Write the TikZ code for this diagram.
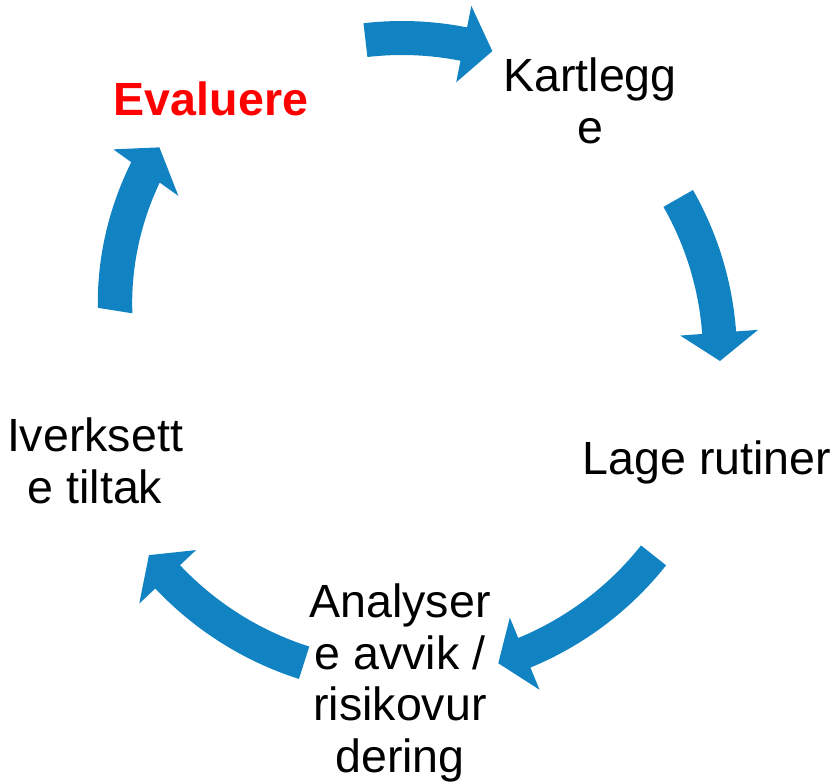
\documentclass[tikz,border=0pt]{standalone}
\usepackage{fontspec}
\setmainfont{Liberation Sans}
\definecolor{cycleblue}{RGB}{18,131,194}
\begin{document}
\begin{tikzpicture}[x=0.02cm,y=0.02cm,font=\fontsize{26.5}{29.5}\selectfont]
	\useasboundingbox (-402,-426) rectangle (436,356);
	\node[align=center] at (188,255) (kartlegge) {Kartlegg\\e};
	\node at (305,-106) (lage) {Lage rutiner};
	\node[align=center] at (-2,-327) (analysere) {Analyser\\e avvik /\\risikovur\\dering};
	\node[align=center] at (-307,-105) (iverksette) {Iverksett\\e tiltak};
	\node[red,font=\fontsize{26.5}{29.5}\selectfont\bfseries] at (-191,257) (evaluere) {Evaluere};
	\fill[cycleblue] (96.6:335) arc[start angle=96.6,end angle=78.8,radius=335] -- (78.8:357) -- (73.5:318) -- (78.8:279) -- (78.8:301) arc[start angle=78.8,end angle=96.6,radius=301] -- cycle;
	\fill[cycleblue] (29.7:335) arc[start angle=29.7,end angle=4.2,radius=335] -- (4.2:357) -- (-0.9:318) -- (4.2:279) -- (4.2:301) arc[start angle=4.2,end angle=29.7,radius=301] -- cycle;
	\fill[cycleblue] (-38.4:337) arc[start angle=-38.4,end angle=-67.6,radius=337] -- (-67.6:361) -- (-72.6:322) -- (-67.6:283) -- (-67.6:305) arc[start angle=-67.6,end angle=-38.4,radius=305] -- cycle;
	\fill[cycleblue] (-107.7:339) arc[start angle=-107.7,end angle=-136.7,radius=339] -- (-136.7:361) -- (-141.8:322) -- (-136.7:283) -- (-136.7:305) arc[start angle=-136.7,end angle=-107.7,radius=305] -- cycle;
	\fill[cycleblue] plot[domain=171:144.4,samples=20] (\x:{308+25*(171-\x)/26.6}) -- (144.4:355) -- (139.3:320) -- (144.4:275) -- plot[domain=144.4:171,samples=20] (\x:{273+25*(171-\x)/26.6}) -- cycle;
\end{tikzpicture}
\end{document}
